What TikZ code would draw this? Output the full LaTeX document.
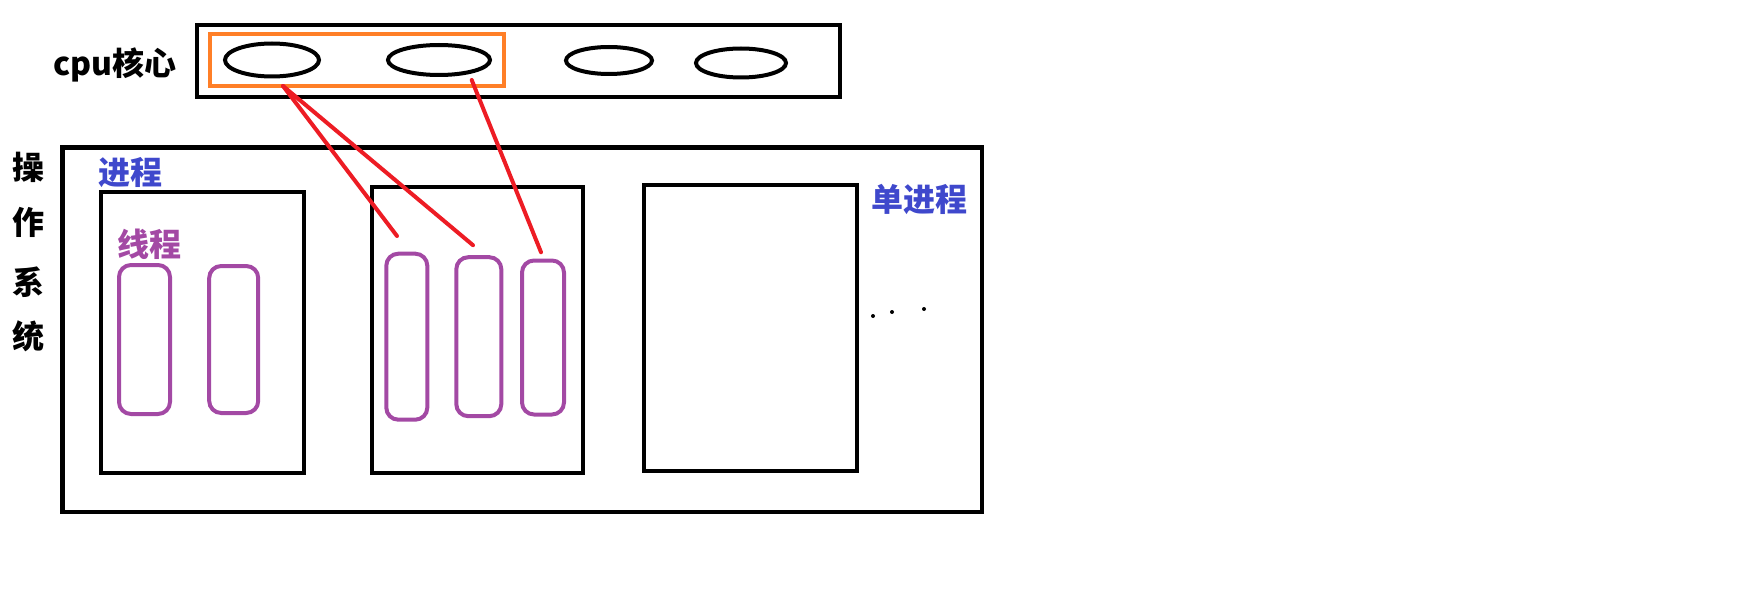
\documentclass[tikz,border=0pt]{standalone}
\usepackage{fontspec}
\newfontfamily\cjk{Noto Sans CJK SC}
\usetikzlibrary{shapes.geometric}
\definecolor{coreorange}{RGB}{255,127,39}
\definecolor{linkred}{RGB}{237,28,36}
\definecolor{procblue}{RGB}{63,72,204}
\definecolor{threadpurple}{RGB}{163,73,164}

\begin{document}
\begin{tikzpicture}[x=1pt, y=-1pt,
  box/.style={draw, line width=4.3pt, inner sep=0pt},
  core/.style={draw, ellipse, line width=4pt, inner sep=0pt},
  thread/.style={draw=threadpurple, line width=4pt, rounded corners=12pt, inner sep=0pt},
  link/.style={draw=linkred, line width=4pt, line cap=round},
  txt/.style={font=\cjk\bfseries\fontsize{32}{36}\selectfont, inner sep=0pt}]
\useasboundingbox (0,0) rectangle (1756,604);

% cpu cores
\node[box, minimum width=643pt, minimum height=72pt] (CPU) at (518.5,61) {};
\node[box, draw=coreorange, line width=4pt, minimum width=294pt, minimum height=52pt] (G) at (356.5,60.5) {};
\node[core, minimum width=94pt, minimum height=33pt] (C1) at (272,60) {};
\node[core, minimum width=102pt, minimum height=30pt] (C2) at (439,60) {};
\node[core, minimum width=86pt, minimum height=27pt] (C3) at (609,60.5) {};
\node[core, minimum width=90pt, minimum height=29pt] (C4) at (741,63) {};
\node[txt] (CL) at (115,65) {cpu核心};

% operating system
\node[box, minimum width=919.5pt, minimum height=364.5pt] (OS) at (522.3,329.8) {};
\foreach \ch/\y in {操/167,作/222,系/282,统/336}
  \node[txt] (OS-\y) at (28.5,\y) {\ch};

% processes
\node[box, minimum width=203pt, minimum height=281pt] (P1) at (202.5,332.3) {};
\node[box, minimum width=211pt, minimum height=286pt] (P2) at (477.7,330.2) {};
\node[box, minimum width=213pt, minimum height=286pt] (P3) at (750.5,327.8) {};
\node[txt, text=procblue] (PL) at (130,173) {进程};
\node[txt, text=procblue] (SL) at (919.5,199.5) {单进程};

% threads
\node[thread, minimum width=51pt, minimum height=149pt] (T1) at (144.5,339.5) {};
\node[thread, minimum width=49pt, minimum height=147pt] (T2) at (233.7,339.5) {};
\node[thread, minimum width=41pt, minimum height=166pt] (T3) at (406.8,336.7) {};
\node[thread, minimum width=45pt, minimum height=159pt] (T4) at (478.8,336.7) {};
\node[thread, minimum width=42pt, minimum height=154pt] (T5) at (543,337.5) {};
\node[txt, text=threadpurple] (TL) at (149,244) {线程};

% core to thread
\draw[link] ([shift={(11,7.5)}]C1.south) to ([shift={(-9.8,-15.7)}]T3.north);
\draw[link] ([shift={(11,7.5)}]C1.south) to ([shift={(-5.8,-10)}]T4.north);
\draw[link] ([shift={(32.7,20)}]C2.center) to ([shift={(-2,-6.3)}]T5.north);

\fill (873,316) circle (2pt);
\fill (892,312) circle (2pt);
\fill (924,309) circle (2pt);
\end{tikzpicture}
\end{document}
